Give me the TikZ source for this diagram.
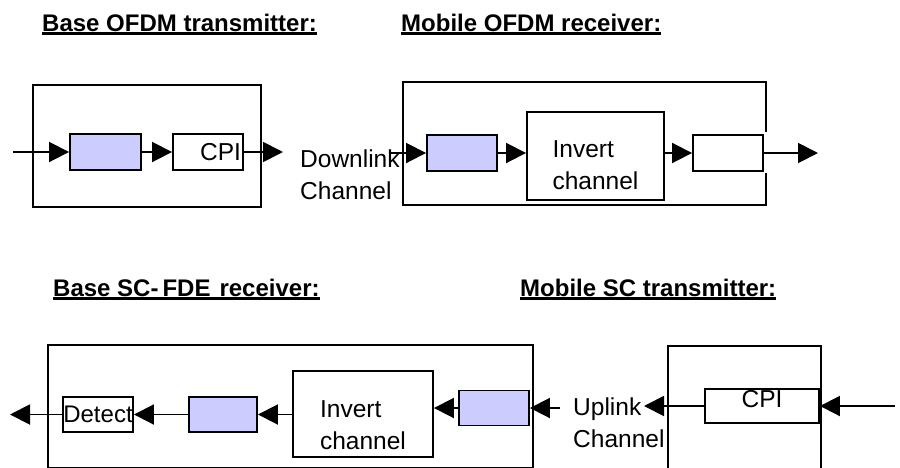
\documentclass[tikz,border=0pt]{standalone}
\usepackage{fontspec}
\setmainfont{Liberation Sans}
\usetikzlibrary{arrows.meta}
\definecolor{blu}{RGB}{204,204,255}
\begin{document}
\begin{tikzpicture}[x=1pt,y=-1pt,
  every node/.style={inner sep=0pt},
  box/.style={draw=black, line width=1.9pt},
  bbox/.style={box, fill=blu},
  arr/.style={line width=1.9pt, -{Triangle[length=20pt,width=20pt]}},
  txt/.style={font=\fontsize{24.5}{32}\selectfont, align=left},
  hdr/.style={font=\fontsize{24}{28}\selectfont\bfseries, anchor=base west},
  uline/.style={line width=2.8pt}]
\useasboundingbox (0,0) rectangle (900,467);
\clip (0,0) rectangle (900,467);
% headers
\node[hdr] (h1) at (42,31) {Base OFDM transmitter:};
\node[hdr] (h2) at (401,31) {Mobile OFDM receiver:};
\node[hdr] (h3) at (53,296) {Base SC-\,FDE\hspace{9pt}receiver:};
\node[hdr] (h4) at (520,296) {Mobile SC transmitter:};
\foreach \h in {h1,h2,h3,h4}
  \draw[uline] ([yshift=-2.5pt]\h.base west) -- ([yshift=-2.5pt]\h.base east);
% top-left: base OFDM transmitter
\node[box, minimum width=228pt, minimum height=122pt] (tl) at (147,146) {};
\node[bbox, minimum width=71pt, minimum height=36pt] (b1) at (105.5,152) {};
\node[box, minimum width=70pt, minimum height=36pt, text width=66pt, align=right,
      font=\fontsize{24.5}{28}\selectfont] (c1) at (208,152) {CPI};
\coordinate (in1) at (13,152);
\coordinate (dl1) at (283,152);
\draw[arr] (in1) -- (b1);
\draw[arr] (b1) -- (c1);
\draw[arr] (c1) -- (dl1);
\node[txt, anchor=north west] (dl) at (300,147) {\rule{0pt}{20pt}Downlink\\Channel};
% top-right: mobile OFDM receiver
\draw[box] (766,132) -- (766,82) -- (403,82) -- (403,205) -- (766,205) -- (766,173);
\node[bbox, minimum width=70pt, minimum height=36pt] (b2) at (462,153) {};
\node[box, minimum width=137pt, minimum height=88pt, txt] (i1) at (595.5,156) {\rule{0pt}{35pt}Invert\\channel};
\node[box, minimum width=70pt, minimum height=36pt] (w1) at (728,153) {};
\coordinate (dl2) at (390,153);
\coordinate (o1) at (818,153);
\draw[arr] (dl2) -- (b2);
\draw[arr] (b2) -- (b2 -| i1.west);
\draw[arr] (i1.east |- w1) -- (w1);
\draw[arr] (w1) -- (o1);
% bottom-left: base SC-FDE receiver
\node[box, minimum width=485pt, minimum height=122.5pt] (bl) at (290.5,406.25) {};
\node[box, minimum width=70pt, minimum height=35pt, font=\fontsize{24}{28}\selectfont] (det) at (98,414.5) {Detect};
\node[bbox, minimum width=68pt, minimum height=35pt] (b3) at (223,414.5) {};
\node[box, minimum width=140pt, minimum height=86pt, txt] (i2) at (363,414) {\rule{0pt}{39pt}Invert\\channel};
\node[bbox, minimum width=70pt, minimum height=35pt] (b4) at (494,408) {};
\coordinate (o2) at (10,414.5);
\coordinate (ul1) at (560,408);
\draw[arr] (ul1) -- (b4);
\draw[arr] (b4) -- (b4 -| i2.east);
\draw[arr] (i2.west |- b3) -- (b3);
\draw[arr] (b3) -- (det);
\draw[arr] (det) -- (o2);
% bottom-right: mobile SC transmitter
\draw[box] (668,480) -- (668,346) -- (821,346) -- (821,480);
\node[box, minimum width=114pt, minimum height=34pt, font=\fontsize{24.5}{28}\selectfont,
      text height=17pt, text depth=15pt] (c2) at (762,406) {CPI};
\coordinate (in2) at (895,406);
\coordinate (ul2) at (644,406);
\draw[arr] (in2) -- (c2);
\draw[arr] (c2) -- (ul2);
\node[txt, anchor=north west] (ul) at (573,395) {\rule{0pt}{20pt}Uplink\\Channel};
\end{tikzpicture}
\end{document}
